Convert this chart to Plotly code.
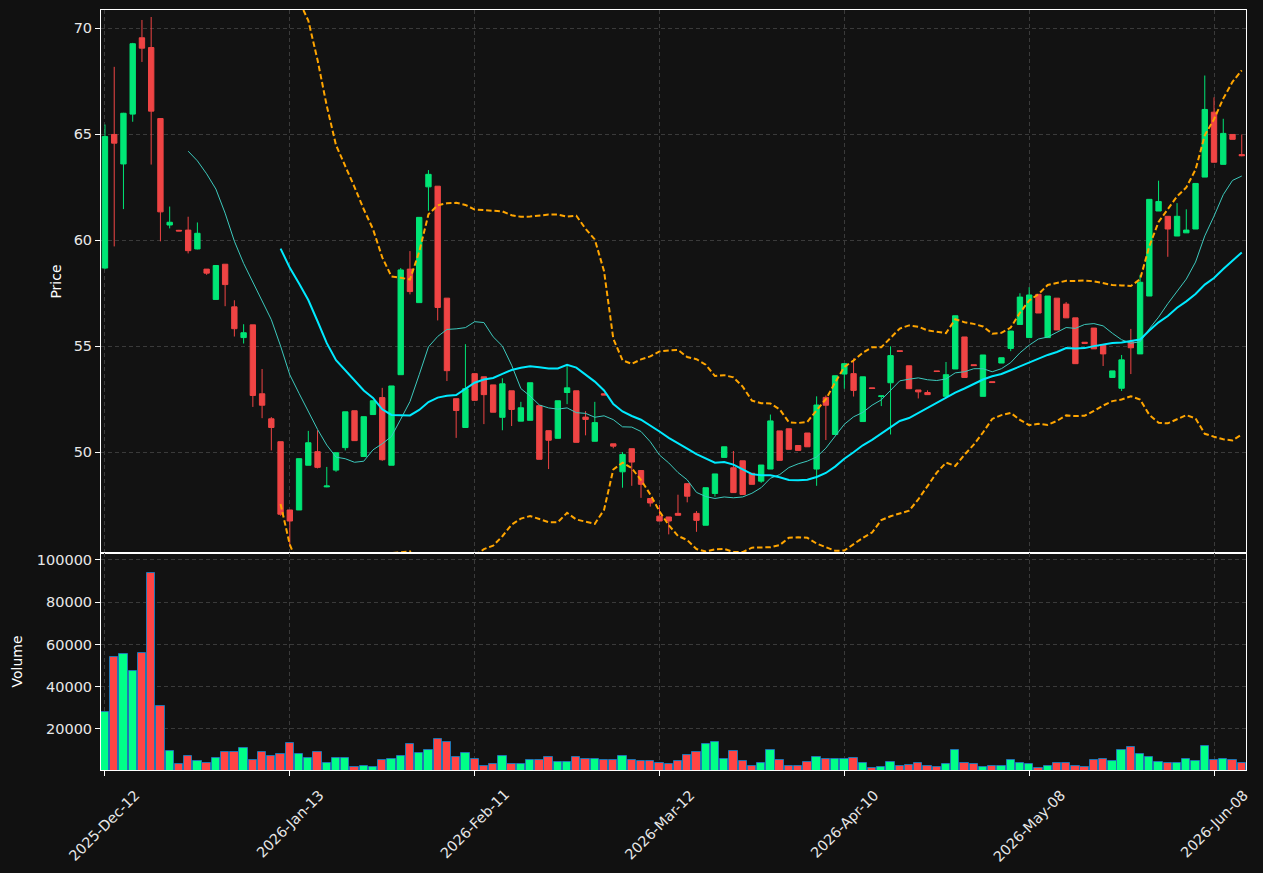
import numpy as np
import pandas as pd
import plotly.graph_objects as go
from plotly.subplots import make_subplots

# ---- trading calendar (US market holidays skipped) ----
holidays = ["2025-12-25", "2026-01-01", "2026-01-19", "2026-02-16", "2026-04-03", "2026-05-25"]
dates = pd.bdate_range(start="2025-12-12", periods=124, freq="C", holidays=holidays)
labels = [d.strftime("%Y-%b-%d") for d in dates]
tick_labels = labels[::20]

open_ = [58.68, 64.98, 63.59, 65.94, 69.54, 69.08, 65.73, 60.71, 60.46, 60.47,
         59.58, 58.63, 57.20, 58.86, 56.85, 55.40, 56.00, 52.75, 51.57, 50.49,
         47.27, 47.27, 49.38, 50.02, 48.36, 49.15, 50.21, 51.95, 49.79, 51.77,
         52.57, 49.38, 53.65, 58.63, 57.05, 62.51, 62.54, 57.26, 52.52, 51.16,
         53.70, 53.55, 53.17, 51.64, 52.89, 51.46, 51.50, 52.19, 51.01, 50.65,
         52.81, 52.89, 51.65, 50.51, 52.75, 50.39, 49.07, 50.16, 49.13, 47.81,
         46.98, 46.94, 47.11, 48.51, 47.11, 46.55, 48.05, 49.75, 49.26, 49.59,
         49.00, 48.63, 49.20, 51.00, 51.10, 50.31, 50.90, 49.20, 52.58, 50.83,
         53.68, 53.70, 51.44, 53.03, 52.62, 53.27, 54.78, 54.07, 52.93, 52.81,
         53.83, 52.63, 53.92, 55.43, 54.12, 52.63, 53.32, 54.20, 54.89, 56.02,
         55.40, 57.44, 55.40, 57.26, 56.98, 56.33, 55.18, 55.85, 55.07, 53.52,
         53.01, 55.20, 54.63, 57.36, 61.37, 61.12, 60.19, 60.34, 60.52, 62.97,
         66.03, 63.57, 64.98, 64.03]
high = [65.45, 68.17, 66.00, 69.30, 70.38, 70.52, 65.75, 61.58, 60.48, 61.10,
        60.83, 58.63, 58.80, 58.86, 57.16, 56.03, 56.00, 53.92, 51.65, 50.49,
        47.27, 49.69, 51.00, 51.03, 49.30, 49.97, 51.90, 51.95, 51.67, 52.42,
        53.03, 53.12, 58.68, 59.48, 61.07, 63.30, 62.54, 57.26, 52.52, 55.09,
        53.70, 53.55, 53.17, 53.48, 52.89, 52.37, 53.27, 52.19, 51.01, 52.42,
        54.06, 52.89, 51.93, 52.37, 52.75, 50.39, 50.00, 50.16, 49.13, 47.81,
        47.51, 46.94, 47.99, 48.51, 47.22, 48.32, 48.97, 50.25, 50.05, 49.59,
        49.00, 49.39, 51.77, 51.00, 51.10, 50.31, 50.90, 52.63, 52.67, 53.60,
        54.17, 54.42, 53.55, 53.03, 52.65, 54.99, 54.78, 54.07, 52.93, 52.91,
        53.83, 54.25, 56.43, 55.43, 54.12, 54.58, 53.32, 54.45, 55.71, 57.49,
        57.78, 57.44, 57.36, 57.26, 57.08, 56.33, 55.18, 55.85, 55.07, 53.83,
        54.58, 55.81, 58.36, 61.92, 62.80, 61.12, 61.74, 61.45, 62.67, 67.76,
        66.73, 65.72, 64.98, 64.98]
low = [58.63, 59.70, 61.46, 65.58, 68.40, 63.56, 59.94, 60.55, 60.42, 59.37,
       59.56, 58.36, 57.20, 56.88, 55.45, 55.12, 52.13, 51.60, 50.08, 47.00,
       45.55, 47.27, 49.38, 49.23, 48.34, 49.07, 50.08, 50.54, 49.79, 51.77,
       49.59, 49.38, 53.65, 57.44, 57.05, 61.38, 56.21, 53.35, 50.67, 51.16,
       52.44, 51.32, 51.88, 51.03, 51.23, 51.46, 51.50, 49.66, 49.20, 50.65,
       52.26, 50.46, 50.79, 50.51, 52.69, 50.18, 48.32, 48.41, 47.84, 47.43,
       46.75, 46.12, 47.02, 47.63, 46.24, 46.55, 47.90, 49.75, 48.09, 48.00,
       48.48, 48.55, 49.20, 49.61, 50.13, 50.08, 50.25, 48.41, 50.57, 50.83,
       52.99, 52.62, 51.44, 53.00, 52.17, 50.83, 54.75, 52.99, 52.53, 52.71,
       53.80, 52.63, 53.92, 53.52, 54.08, 52.63, 53.28, 54.20, 54.76, 56.02,
       55.40, 56.56, 55.40, 55.76, 56.33, 54.17, 55.13, 54.87, 54.06, 53.52,
       52.88, 53.68, 54.63, 57.36, 61.37, 59.21, 60.19, 60.34, 60.52, 62.97,
       63.67, 63.57, 64.75, 63.95]
close = [64.88, 64.57, 65.98, 69.26, 69.05, 66.08, 61.33, 60.84, 60.43, 59.50,
         60.32, 58.44, 58.80, 57.90, 55.82, 55.63, 52.67, 52.21, 51.16, 47.07,
         46.75, 49.69, 50.44, 49.28, 48.40, 49.97, 51.90, 50.54, 51.67, 52.42,
         49.64, 53.12, 58.59, 57.57, 61.07, 63.10, 56.82, 53.84, 51.96, 52.99,
         52.44, 52.71, 51.88, 53.22, 52.01, 52.09, 53.27, 49.66, 50.56, 52.42,
         53.03, 50.46, 51.54, 51.39, 52.69, 50.28, 49.89, 49.53, 48.48, 47.60,
         46.75, 46.75, 47.02, 47.92, 46.78, 48.32, 48.97, 50.25, 48.09, 48.00,
         48.48, 49.39, 51.47, 49.61, 50.13, 50.08, 50.25, 52.22, 52.21, 53.60,
         54.17, 52.91, 53.55, 53.00, 52.65, 54.55, 54.75, 52.99, 52.84, 52.71,
         53.80, 53.65, 56.43, 53.52, 54.08, 54.58, 53.28, 54.45, 55.71, 57.31,
         57.41, 56.56, 57.36, 55.76, 56.33, 54.17, 55.13, 54.87, 54.63, 53.83,
         54.35, 54.92, 58.01, 61.92, 61.82, 60.52, 61.12, 60.47, 62.67, 66.16,
         63.67, 65.03, 64.75, 63.98]
volume = [27900, 54000, 55300, 47200, 55900, 93800, 30750, 9400, 3250, 7050,
          4650, 3700, 6100, 8950, 8950, 10850, 5150, 8950, 7050, 8000,
          13200, 8000, 6100, 8950, 3700, 6100, 6100, 1800, 2300, 1800,
          5150, 5600, 7050, 12750, 8450, 9900, 15100, 13700, 6550, 8450,
          5600, 2300, 3250, 7050, 3250, 3250, 5150, 5150, 6550, 4200,
          4200, 6550, 5600, 5600, 5150, 5150, 7050, 5150, 4650, 4650,
          3700, 3250, 4650, 7500, 8950, 12750, 13700, 5600, 9400, 4650,
          2300, 3700, 9900, 5150, 2300, 2300, 4200, 6550, 5600, 5600,
          5600, 6100, 3700, 1350, 1800, 4200, 2300, 2750, 3700, 2300,
          1800, 3250, 9900, 3700, 3250, 1800, 2300, 2300, 5150, 3700,
          3250, 1350, 2300, 3700, 3700, 2300, 1800, 5150, 5600, 4650,
          9900, 11300, 8000, 6550, 4200, 3700, 3700, 5600, 4650, 11800,
          5150, 5600, 5150, 3700]

# ---- indicators computed from the close series ----
cs = pd.Series(close)
ma10 = cs.rolling(10).mean()
ma20 = cs.rolling(20).mean()
sd20 = cs.rolling(20).std()
bb_up = ma20 + 2 * sd20
bb_lo = ma20 - 2 * sd20

UP_C = "#00e676"
DN_C = "#ef4444"
UP_V = "#00ff88"
DN_V = "#ff4444"
vol_colors = [UP_V if c >= o else DN_V for o, c in zip(open_, close)]

fig = make_subplots(rows=2, cols=1, shared_xaxes=True, vertical_spacing=0)

fig.add_trace(go.Candlestick(
    x=labels, open=open_, high=high, low=low, close=close,
    increasing=dict(line=dict(color=UP_C, width=1), fillcolor=UP_C),
    decreasing=dict(line=dict(color=DN_C, width=1), fillcolor=DN_C),
    whiskerwidth=0, name="OHLC"), row=1, col=1)

fig.add_trace(go.Scatter(x=labels, y=ma10, mode="lines",
                         line=dict(color="#3cc8bc", width=1), name="MA10"), row=1, col=1)
fig.add_trace(go.Scatter(x=labels, y=ma20, mode="lines",
                         line=dict(color="#00eaff", width=2), name="MA20"), row=1, col=1)
fig.add_trace(go.Scatter(x=labels, y=bb_up, mode="lines",
                         line=dict(color="#ffa500", width=2, dash="5.5px,2.8px"), name="BB Upper"), row=1, col=1)
fig.add_trace(go.Scatter(x=labels, y=bb_lo, mode="lines",
                         line=dict(color="#ffa500", width=2, dash="5.5px,2.8px"), name="BB Lower"), row=1, col=1)

fig.add_trace(go.Bar(x=labels, y=volume, width=0.9,
                     marker=dict(color=vol_colors, line=dict(color="#1f77b4", width=1)),
                     name="Volume"), row=2, col=1)

GRID = "#3a3a3a"
TICK_C = "#e8e8e8"
axis_common = dict(showgrid=True, gridcolor=GRID, griddash="4px,3px", gridwidth=1,
                   showline=True, mirror=True, linecolor="white", linewidth=1,
                   zeroline=False, tickcolor="white", ticklen=5,
                   tickfont=dict(color=TICK_C, size=14.5))

fig.update_layout(
    width=1263, height=873,
    paper_bgcolor="#111111", plot_bgcolor="#121212",
    font=dict(family="DejaVu Sans", color="white", size=14),
    margin=dict(l=101, r=17, t=10, b=103),
    showlegend=False,
    boxgap=0.42, boxgroupgap=0,
    bargap=0,
)

xr = [-0.43, 123.46]
fig.update_xaxes(type="category", range=xr, tickmode="array", tickvals=tick_labels,
                 ticktext=tick_labels, rangeslider=dict(visible=False), **axis_common)
fig.update_xaxes(showticklabels=False, ticks="", row=1, col=1)
fig.update_xaxes(showticklabels=False, ticks="outside", row=2, col=1)

# rotated date labels centred under their ticks
for lab in tick_labels:
    fig.add_annotation(x=lab, xref="x2", y=0, yref="paper", yshift=-14,
                       text=lab, showarrow=False, textangle=-45,
                       xanchor="center", yanchor="top",
                       font=dict(family="DejaVu Sans", size=14.3, color=TICK_C))

fig.update_yaxes(**axis_common)
fig.update_yaxes(domain=[0.2855, 1.0], range=[45.24, 70.85], dtick=5, ticks="outside",
                 title=dict(text="Price", font=dict(size=14, color="white"), standoff=8),
                 row=1, col=1)
fig.update_yaxes(domain=[0.0, 0.2855], range=[560, 103300], tickmode="array",
                 tickvals=[20000, 40000, 60000, 80000, 100000], tickformat="d", ticks="outside",
                 title=dict(text="Volume", font=dict(size=14, color="white"), standoff=10),
                 row=2, col=1)

fig.write_html("out.html")
